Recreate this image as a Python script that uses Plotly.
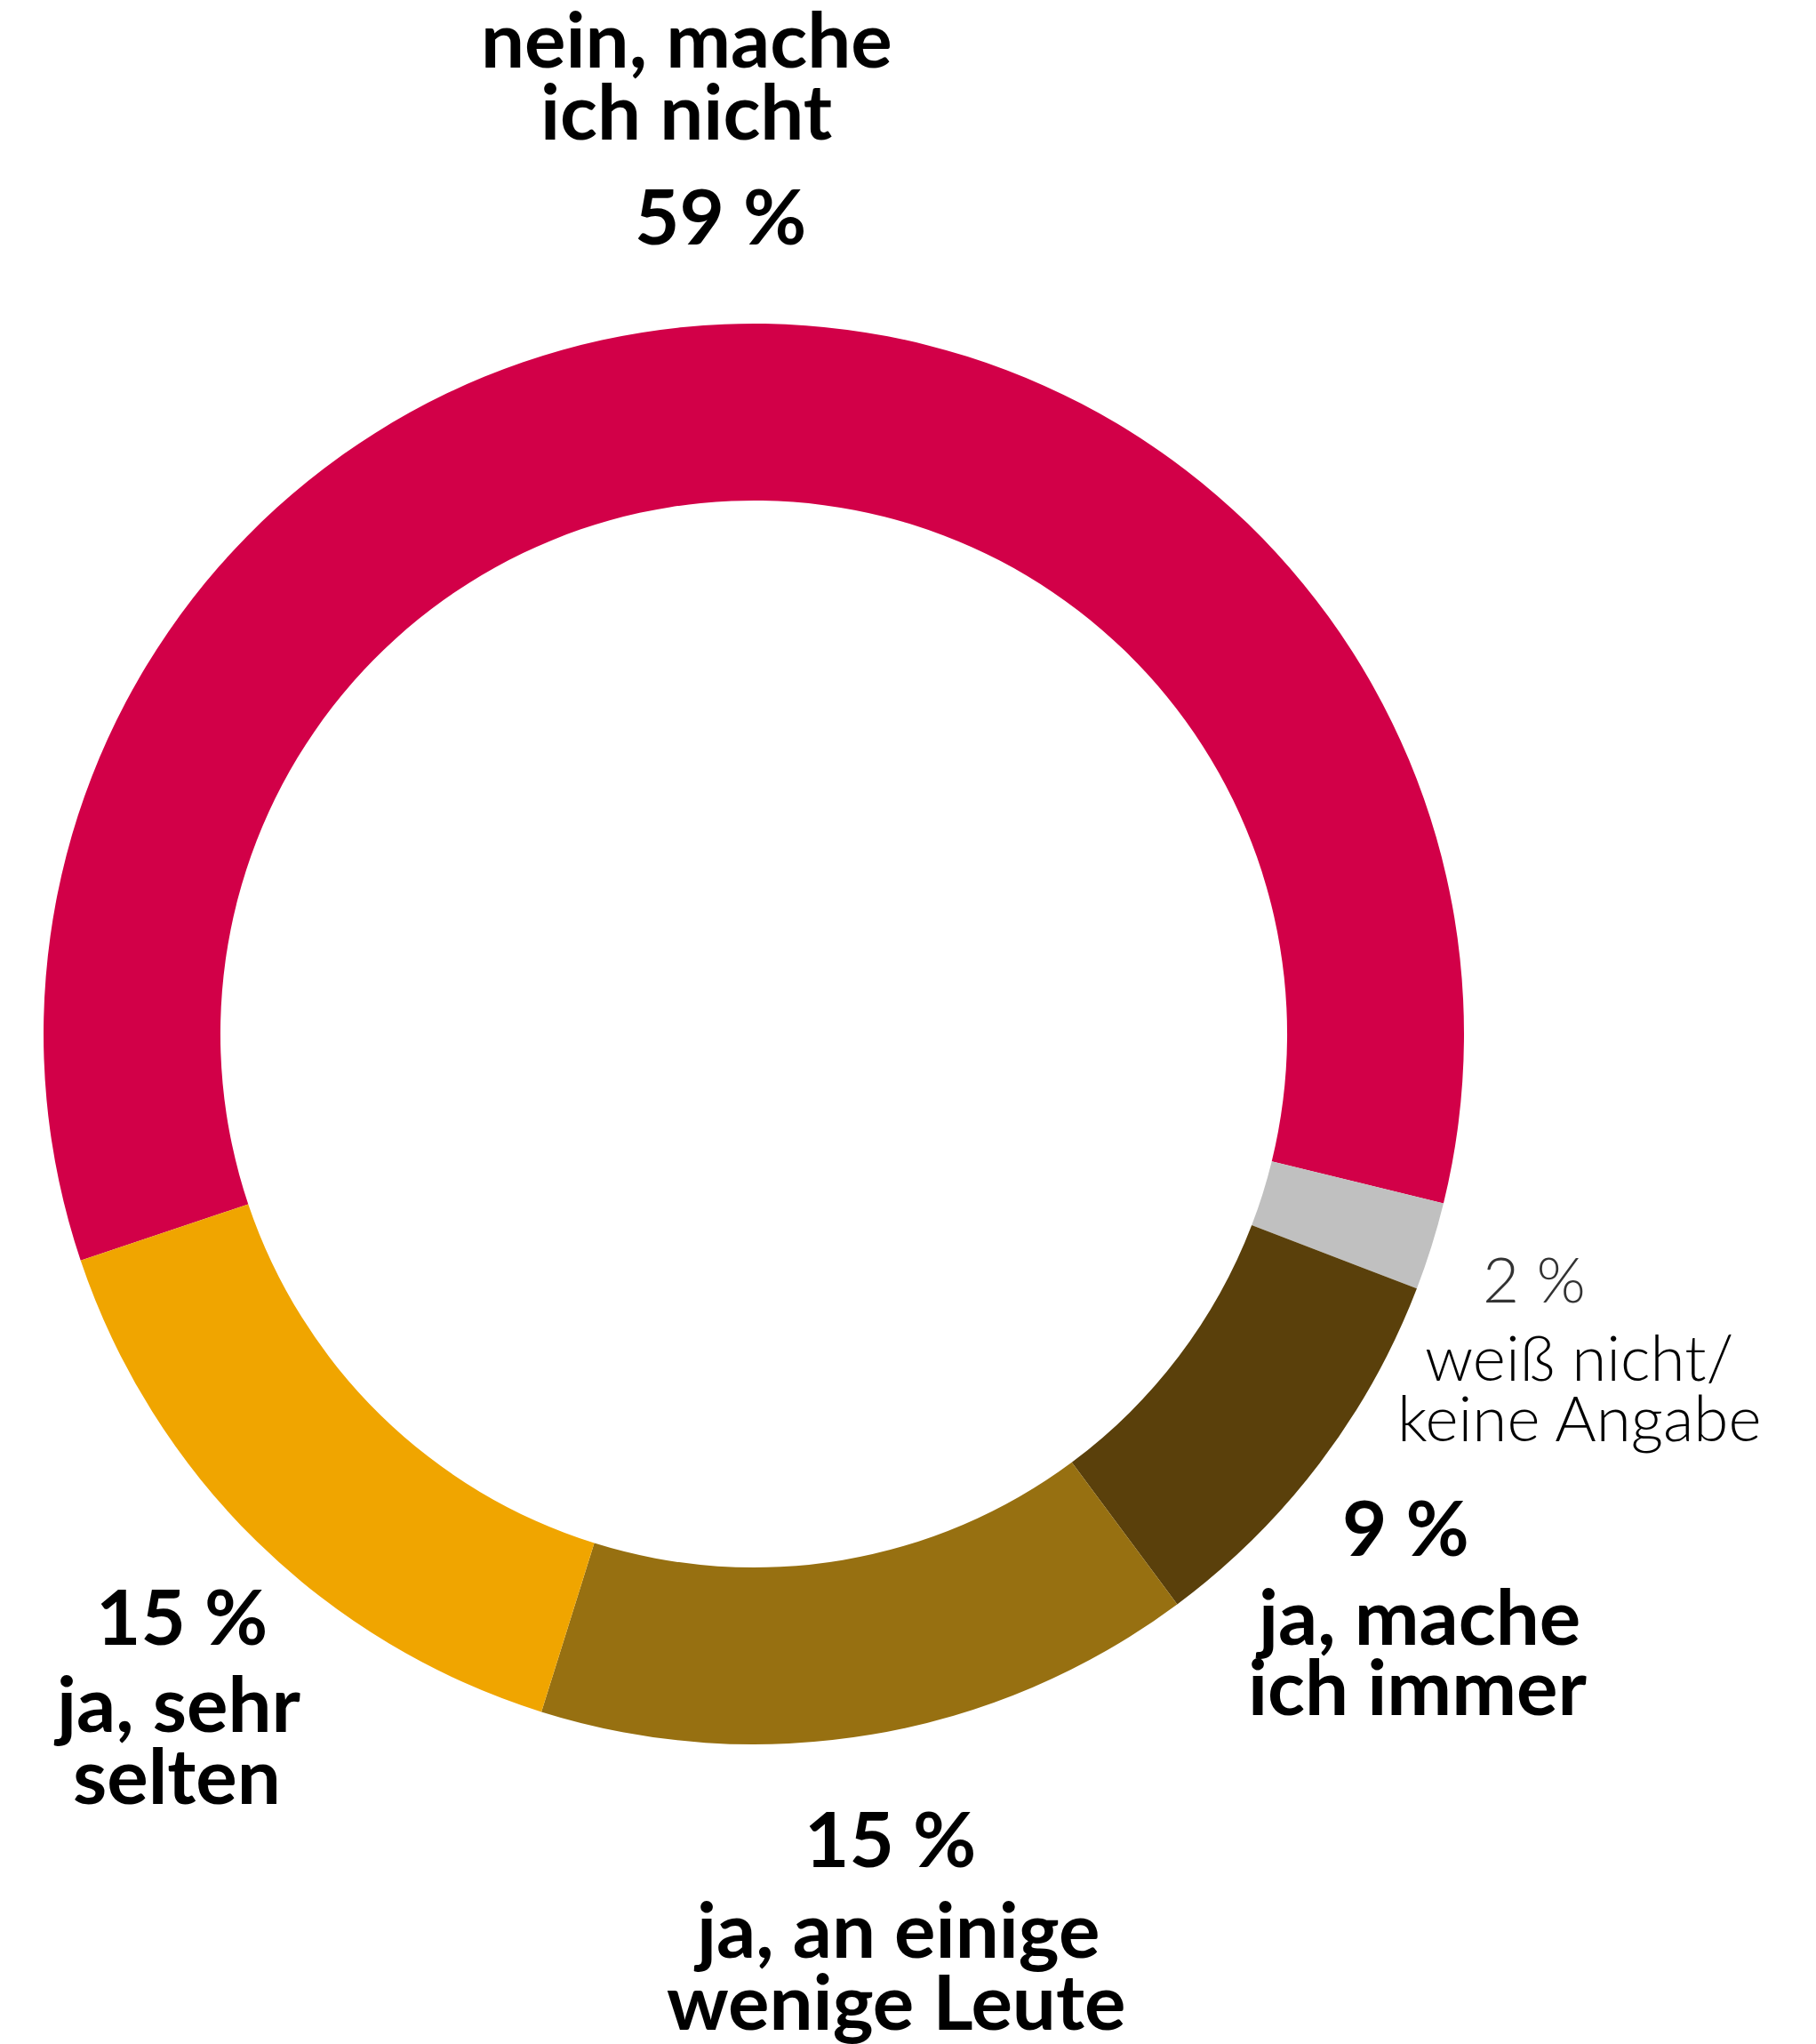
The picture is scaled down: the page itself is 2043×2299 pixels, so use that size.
import plotly.graph_objects as go

# Survey answers, clockwise from the left edge of the ring
labels = ["nein, mache ich nicht", "weiß nicht/keine Angabe", "ja, mache ich immer",
          "ja, an einige wenige Leute", "ja, sehr selten"]
values = [59, 2, 9, 15, 15]
colors = ["#D20048", "#C0C0C0", "#5A400B", "#977011", "#F0A500"]

# Label blocks: value line and text lines, centre x and baselines in px
label_blocks = [
    {"pct": "59 %", "text": ["nein, mache", "ich nicht"],
     "x": 772, "pct_x": 810, "base": [76, 157], "pct_base": 275, "bold": True},
    {"pct": "2 %", "text": ["weiß nicht/", "keine Angabe"],
     "x": 1776, "pct_x": 1726, "base": [1553, 1621], "pct_base": 1465, "bold": False},
    {"pct": "9 %", "text": ["ja, mache", "ich immer"],
     "x": 1595, "pct_x": 1581, "base": [1850, 1929], "pct_base": 1750, "bold": True},
    {"pct": "15 %", "text": ["ja, an einige", "wenige Leute"],
     "x": 1008, "pct_x": 1001, "base": [2202, 2283], "pct_base": 2100, "bold": True},
    {"pct": "15 %", "text": ["ja, sehr", "selten"],
     "x": 199, "pct_x": 204, "base": [1948, 2029], "pct_base": 1850, "bold": True},
]

W, H = 2043, 2299
CX, CY, R = 848, 1163, 799

fig = go.Figure(go.Pie(
    labels=labels,
    values=values,
    marker=dict(colors=colors, line=dict(width=0)),
    hole=0.751,
    sort=False,
    direction="clockwise",
    rotation=251.4,
    textinfo="none",
    hoverinfo="label+percent",
    showlegend=False,
    domain=dict(x=[(CX - R) / W, (CX + R) / W],
                y=[(H - CY - R) / H, (H - CY + R) / H]),
))

BOLD_FS = 87
LIGHT_FS = 71


def add_line(text, x_px, base_px, bold, color):
    fs = BOLD_FS if bold else LIGHT_FS
    yc = base_px - 0.387 * fs
    fig.add_annotation(
        x=x_px / W, y=1 - yc / H, xref="paper", yref="paper",
        xanchor="center", yanchor="middle", showarrow=False, text=text,
        font=dict(family="Lato", size=fs, color=color,
                  weight=700 if bold else 300),
    )


for b in label_blocks:
    pct_color = "#000000" if b["bold"] else "#333333"
    add_line(b["pct"], b["pct_x"], b["pct_base"], b["bold"], pct_color)
    for t, base in zip(b["text"], b["base"]):
        add_line(t, b["x"], base, b["bold"], "#000000")

fig.update_layout(
    width=W, height=H,
    margin=dict(l=0, r=0, t=0, b=0),
    paper_bgcolor="white",
    plot_bgcolor="white",
)

fig.write_html("out.html")
